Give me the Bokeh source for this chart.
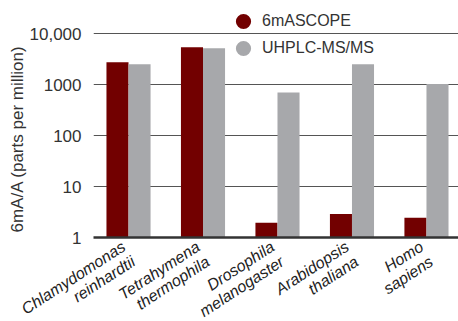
from bokeh.plotting import figure
from bokeh.models import (ColumnDataSource, FixedTicker, Range1d, Legend, LegendItem, Title)
from bokeh.embed import file_html
from bokeh.resources import INLINE
import numpy as np

species = ["Chlamydomonas\nreinhardtii", "Tetrahymena\nthermophila", "Drosophila\nmelanogaster",
           "Arabidopsis\nthaliana", "Homo\nsapiens"]
ascope = [2720, 5400, 1.95, 2.9, 2.45]
uhplc = [2500, 5150, 700, 2500, 1020]
y_ticks = [1, 10, 100, 1000, 10000]
y_tick_labels = ["1", "10", "100", "1000", "10,000"]
series_names = ["6mASCOPE", "UHPLC-MS/MS"]
y_title = "6mA/A (parts per million)"

RED = "#720000"
GRAY = "#a7a8ab"
FONT = "Liberation Sans"

xs = np.arange(len(species))
nan = float("nan")
src = ColumnDataSource(dict(x=xs, xr=xs - 0.148, xg=xs + 0.148, a=ascope, u=uhplc,
                            base=[1] * len(species)))

p = figure(frame_width=365, frame_height=232, y_axis_type="log", output_backend="svg",
           toolbar_location=None, x_range=Range1d(-0.47, 4.43),
           y_range=Range1d(1, 10 ** (232 / 51)))
p.min_border_left = 93
p.min_border_right = 0
p.min_border_top = 5
p.min_border_bottom = 60
p.outline_line_color = None
p.background_fill_color = "white"
p.border_fill_color = "white"

r1 = p.vbar(x="xr", top="a", bottom="base", width=0.296, source=src, fill_color=RED, line_color=None)
r2 = p.vbar(x="xg", top="u", bottom="base", width=0.296, source=src, fill_color=GRAY, line_color=None)

# legend-only markers (not drawn in the plot: NaN position)
d1 = p.scatter(x=[nan], y=[nan], size=15, marker="circle", fill_color=RED, line_color=None)
d2 = p.scatter(x=[nan], y=[nan], size=15, marker="circle", fill_color=GRAY, line_color=None)

p.xgrid.grid_line_color = None
p.ygrid.grid_line_color = "#555555"
p.ygrid.grid_line_width = 1
p.ygrid.ticker = FixedTicker(ticks=y_ticks)

p.yaxis.ticker = FixedTicker(ticks=y_ticks)
p.yaxis.major_label_overrides = {t: l for t, l in zip(y_ticks, y_tick_labels)}
p.yaxis.axis_line_color = None
p.yaxis.major_tick_line_color = None
p.yaxis.minor_tick_line_color = None
p.yaxis.major_label_text_font = FONT
p.yaxis.major_label_text_font_size = "17px"
p.yaxis.major_label_text_color = "#333333"
p.yaxis.major_label_standoff = 6

ttl = Title(text=y_title, align="left", text_font=FONT, text_font_size="17px",
            text_font_style="normal", text_color="#333333", standoff=0, offset=5)
p.add_layout(ttl, "left")

p.xaxis.ticker = FixedTicker(ticks=list(xs))
p.xaxis.major_label_overrides = {int(i): s for i, s in zip(xs, species)}
p.xaxis.major_label_orientation = 0.576
p.xaxis.axis_line_color = "#333333"
p.xaxis.axis_line_width = 2.5
p.xaxis.major_tick_line_color = None
p.xaxis.minor_tick_line_color = None
p.xaxis.major_label_text_font = FONT
p.xaxis.major_label_text_font_size = "16px"
p.xaxis.major_label_text_font_style = "italic"
p.xaxis.major_label_text_color = "#222222"
p.xaxis.major_label_text_align = "right"
p.xaxis.major_label_text_line_height = 1.05
p.xaxis.major_label_standoff = 9

for i, (name, rend) in enumerate(zip(series_names, [d1, d2])):
    lg = Legend(items=[LegendItem(label=name, renderers=[rend])],
                location=(224 - 93, 237 - 21 - 19 - 27 * i), orientation="vertical")
    lg.background_fill_alpha = 0
    lg.border_line_color = None
    lg.label_text_font = FONT
    lg.label_text_font_size = "16px"
    lg.label_text_color = "#333333"
    lg.glyph_width = 38
    lg.glyph_height = 38
    lg.label_standoff = -4
    lg.label_height = 38
    lg.padding = 0
    lg.margin = 0
    p.add_layout(lg, "center")

open("out.html", "w").write(file_html(p, INLINE))
